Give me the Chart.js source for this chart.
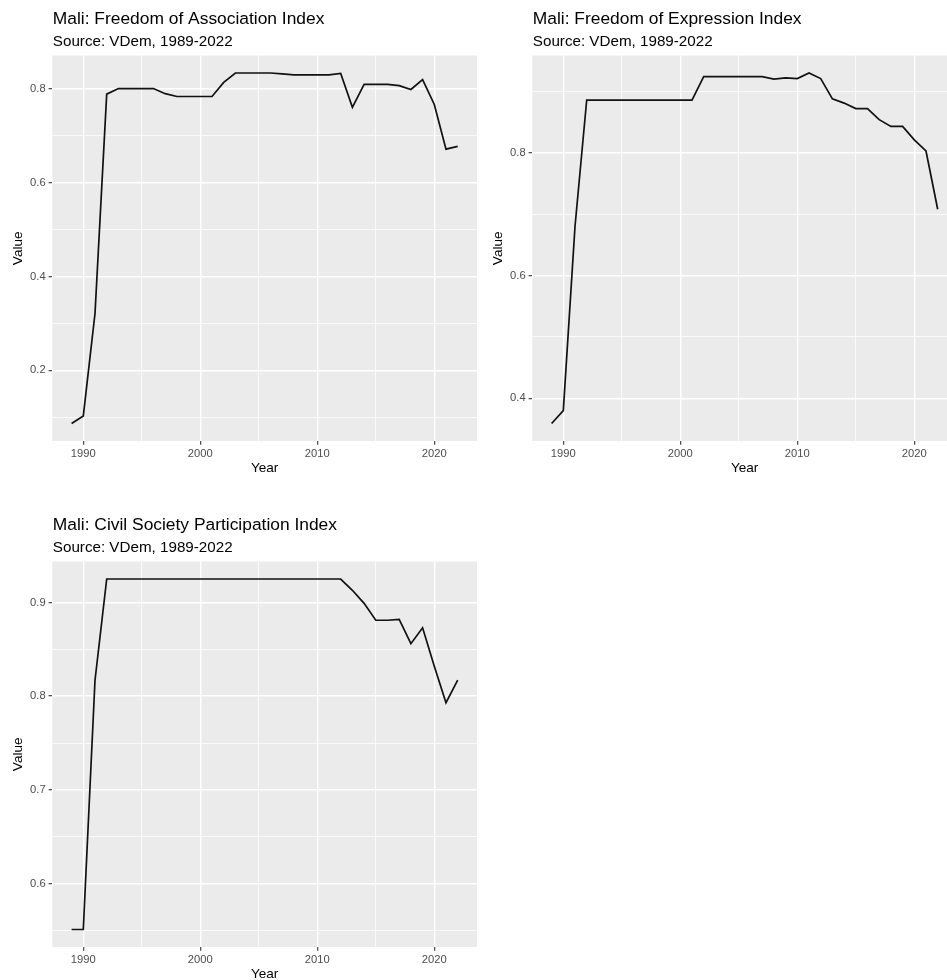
<!DOCTYPE html>
<html>
<head>
<meta charset="utf-8">
<title>Mali: VDem indices, 1989-2022</title>
<script src="https://cdn.jsdelivr.net/npm/chart.js@4/dist/chart.umd.min.js"></script>
<style>
  html, body { margin: 0; padding: 0; background: #ffffff; overflow: hidden; width: 947px; height: 980px; }
  .panel { position: absolute; }
  canvas { display: block; }
</style>
</head>
<body>
<div class="panel" style="left:0px;top:0px"><canvas id="assoc" width="480" height="490"></canvas></div>
<div class="panel" style="left:480px;top:0px"><canvas id="expr" width="480" height="490"></canvas></div>
<div class="panel" style="left:0px;top:506px"><canvas id="civil" width="480" height="490"></canvas></div>
<script>
// ---- data -------------------------------------------------------------
const years = [1989, 1990, 1991, 1992, 1993, 1994, 1995, 1996, 1997, 1998,
               1999, 2000, 2001, 2002, 2003, 2004, 2005, 2006, 2007, 2008,
               2009, 2010, 2011, 2012, 2013, 2014, 2015, 2016, 2017, 2018,
               2019, 2020, 2021, 2022];

const associationIndex = [0.087, 0.103, 0.321, 0.788, 0.800, 0.800, 0.800, 0.800, 0.789, 0.783,
                          0.783, 0.783, 0.783, 0.813, 0.833, 0.833, 0.833, 0.833, 0.831, 0.829,
                          0.829, 0.829, 0.829, 0.832, 0.760, 0.809, 0.809, 0.809, 0.806, 0.798,
                          0.819, 0.766, 0.671, 0.677];

const expressionIndex = [0.359, 0.380, 0.680, 0.886, 0.886, 0.886, 0.886, 0.886, 0.886, 0.886,
                         0.886, 0.886, 0.886, 0.924, 0.924, 0.924, 0.924, 0.924, 0.924, 0.920,
                         0.922, 0.921, 0.930, 0.921, 0.888, 0.881, 0.872, 0.872, 0.854, 0.843,
                         0.843, 0.821, 0.803, 0.708];

const civilSocietyIndex = [0.551, 0.551, 0.817, 0.925, 0.925, 0.925, 0.925, 0.925, 0.925, 0.925,
                           0.925, 0.925, 0.925, 0.925, 0.925, 0.925, 0.925, 0.925, 0.925, 0.925,
                           0.925, 0.925, 0.925, 0.925, 0.913, 0.899, 0.881, 0.881, 0.882, 0.856,
                           0.873, 0.832, 0.793, 0.817];

// ---- axis ticks -------------------------------------------------------
const xTickLabels = [1990, 2000, 2010, 2020];
const xMinorTicks = [1995, 2005, 2015];

const assocYLabels = [0.2, 0.4, 0.6, 0.8];
const assocYMinor  = [0.1, 0.3, 0.5, 0.7];
const exprYLabels  = [0.4, 0.6, 0.8];
const exprYMinor   = [0.5, 0.7, 0.9];
const civilYLabels = [0.6, 0.7, 0.8, 0.9];
const civilYMinor  = [0.55, 0.65, 0.75, 0.85];

const sourceNote = 'Source: VDem, 1989-2022';

// ---- styling ----------------------------------------------------------
const FONT = '"Liberation Sans", Arial, Helvetica, sans-serif';
Chart.defaults.font.family = FONT;

const has = (list, v) => list.some(t => Math.abs(t - v) < 1e-9);

// padded range (5% on each side), like a ggplot continuous scale
function paddedRange(values) {
  const lo = Math.min(...values), hi = Math.max(...values);
  const pad = (hi - lo) * 0.05;
  return [lo - pad, hi + pad];
}

// grey panel background plus title / subtitle block above the panel
const panelDecor = {
  id: 'panelDecor',
  beforeDraw(chart) {
    const { ctx, chartArea: a } = chart;
    ctx.save();
    ctx.fillStyle = '#EBEBEB';
    ctx.fillRect(a.left, a.top, a.right - a.left, a.bottom - a.top);
    ctx.restore();
  },
  afterDraw(chart, args, opts) {
    const { ctx, chartArea: a } = chart;
    ctx.save();
    ctx.fillStyle = '#000000';
    ctx.textAlign = 'left';
    ctx.textBaseline = 'alphabetic';
    ctx.font = '17.4px ' + FONT;
    ctx.fillText(opts.title, a.left + 0.5, 24);
    ctx.font = '15.2px ' + FONT;
    ctx.fillText(opts.subtitle, a.left + 0.5, 45.5);
    ctx.restore();
  }
};

function makePanel(id, title, values, yLabels, yMinor) {
  const [xMin, xMax] = paddedRange(years);
  const [yMin, yMax] = paddedRange(values);
  const xGrid = [...xTickLabels, ...xMinorTicks].sort((a, b) => a - b);
  const yGrid = [...yLabels, ...yMinor].sort((a, b) => a - b);

  return new Chart(document.getElementById(id), {
    type: 'line',
    data: {
      datasets: [{
        data: years.map((yr, i) => ({ x: yr, y: values[i] })),
        borderColor: '#111111',
        borderWidth: 1.7,
        pointRadius: 0,
        tension: 0,
        fill: false
      }]
    },
    options: {
      responsive: false,
      animation: false,
      events: [],
      layout: { padding: { top: 55.5, right: 3, left: 0, bottom: 0 } },
      plugins: {
        legend: { display: false },
        tooltip: { enabled: false },
        panelDecor: { title: title, subtitle: sourceNote }
      },
      scales: {
        x: {
          type: 'linear',
          min: xMin,
          max: xMax,
          afterBuildTicks: s => { s.ticks = xGrid.map(v => ({ value: v })); },
          afterFit: s => { s.height = 49; },
          border: { display: false },
          grid: {
            color: '#FFFFFF',
            lineWidth: c => has(xTickLabels, c.tick.value) ? 1.4 : 0.75,
            drawTicks: true,
            tickLength: 3.7,
            tickWidth: 1.1,
            tickColor: c => has(xTickLabels, c.tick.value) ? '#333333' : 'rgba(0,0,0,0)'
          },
          ticks: {
            autoSkip: false,
            maxRotation: 0,
            padding: 2,
            color: '#4D4D4D',
            font: { size: 11.2 },
            callback: v => has(xTickLabels, v) ? String(v) : ''
          },
          title: {
            display: true,
            text: 'Year',
            color: '#000000',
            font: { size: 13.6 },
            padding: { top: 0, bottom: 13.9 }
          }
        },
        y: {
          type: 'linear',
          min: yMin,
          max: yMax,
          afterBuildTicks: s => { s.ticks = yGrid.map(v => ({ value: v })); },
          afterFit: s => { s.width = 52.3; },
          border: { display: false },
          grid: {
            color: '#FFFFFF',
            lineWidth: c => has(yLabels, c.tick.value) ? 1.4 : 0.75,
            drawTicks: true,
            tickLength: 3.7,
            tickWidth: 1.1,
            tickColor: c => has(yLabels, c.tick.value) ? '#333333' : 'rgba(0,0,0,0)'
          },
          ticks: {
            autoSkip: false,
            padding: 3,
            color: '#4D4D4D',
            font: { size: 11.2 },
            callback: v => has(yLabels, v) ? v.toFixed(1) : ''
          },
          title: {
            display: true,
            text: 'Value',
            color: '#000000',
            font: { size: 13.6 },
            padding: { top: 10.2, bottom: 0 }
          }
        }
      }
    },
    plugins: [panelDecor]
  });
}

makePanel('assoc', 'Mali: Freedom of Association Index', associationIndex, assocYLabels, assocYMinor);
makePanel('expr',  'Mali: Freedom of Expression Index',  expressionIndex,  exprYLabels,  exprYMinor);
makePanel('civil', 'Mali: Civil Society Participation Index', civilSocietyIndex, civilYLabels, civilYMinor);
</script>
</body>
</html>
